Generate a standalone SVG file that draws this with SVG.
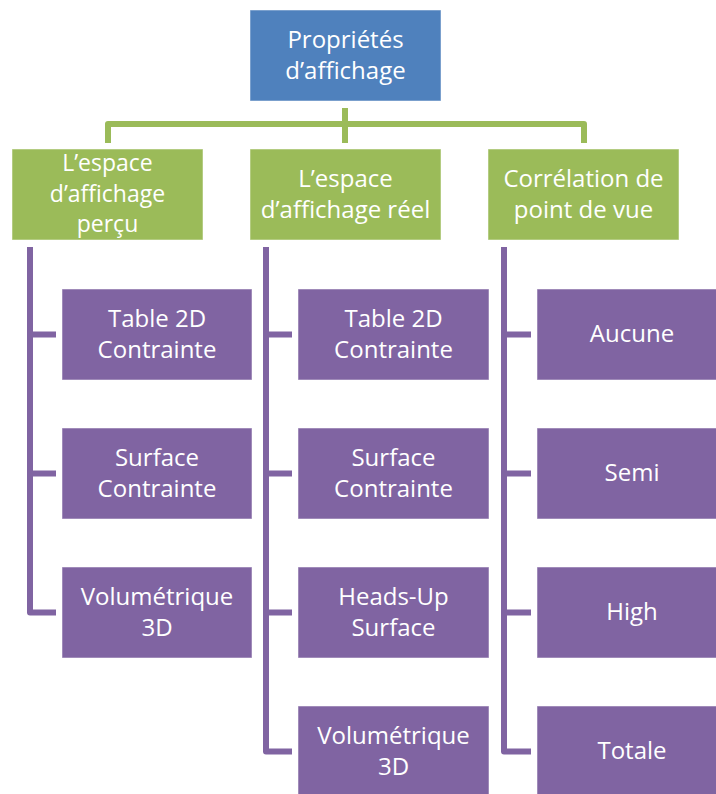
<svg xmlns="http://www.w3.org/2000/svg" width="716" height="794" viewBox="0 0 716 794">
<style>
.blue{fill:#4F81BD;stroke:#ffffff;stroke-opacity:0.5;stroke-width:1}
.green{fill:#9BBB59;stroke:#ffffff;stroke-opacity:0.5;stroke-width:1}
.purple{fill:#8064A2;stroke:#ffffff;stroke-opacity:0.5;stroke-width:1}
text{font-family:"Open Sans","Noto Sans","Liberation Sans",sans-serif;font-size:24px;fill:#ffffff;text-anchor:middle}
.sm{font-size:23px}
.gl{fill:none;stroke:#9BBB59;stroke-width:6;stroke-linejoin:round}
.pl{fill:none;stroke:#8064A2;stroke-width:6;stroke-linejoin:round}
</style>
<rect width="716" height="794" fill="#ffffff"/>
<g id="connectors">
<path class="gl" d="M345,108 V124 M108,143 V124 H584 V143 M345,124 V143"/>
<path class="pl" d="M30,247 V612.5 H56 M30,334.5 H56 M30,473.5 H56"/>
<path class="pl" d="M266,247 V751.5 H292 M266,334.5 H292 M266,473.5 H292 M266,612.5 H292"/>
<path class="pl" d="M504,247 V751.5 H531 M504,334.5 H531 M504,473.5 H531 M504,612.5 H531"/>
</g>
<g id="root"><rect class="blue" x="250" y="10" width="191" height="91"/><text x="345.5" y="48">Propriétés</text><text x="345.5" y="79">d’affichage</text></g>
<g id="percu"><rect class="green" x="12" y="149" width="191" height="91"/><text class="sm" x="107.5" y="171">L’espace</text><text class="sm" x="107.5" y="202">d’affichage</text><text class="sm" x="107.5" y="232">perçu</text></g>
<g id="reel"><rect class="green" x="250" y="149" width="191" height="91"/><text x="345.5" y="187">L’espace</text><text x="345.5" y="218">d’affichage réel</text></g>
<g id="correlation"><rect class="green" x="488" y="149" width="191" height="91"/><text x="583.5" y="187">Corrélation de</text><text x="583.5" y="218">point de vue</text></g>
<g id="p1"><rect class="purple" x="62" y="289" width="190" height="91"/><text x="157" y="327">Table 2D</text><text x="157" y="358">Contrainte</text></g>
<g id="p2"><rect class="purple" x="62" y="428" width="190" height="91"/><text x="157" y="466">Surface</text><text x="157" y="497">Contrainte</text></g>
<g id="p3"><rect class="purple" x="62" y="567" width="190" height="91"/><text x="157" y="605">Volumétrique</text><text x="157" y="636">3D</text></g>
<g id="r1"><rect class="purple" x="298" y="289" width="191" height="91"/><text x="393.5" y="327">Table 2D</text><text x="393.5" y="358">Contrainte</text></g>
<g id="r2"><rect class="purple" x="298" y="428" width="191" height="91"/><text x="393.5" y="466">Surface</text><text x="393.5" y="497">Contrainte</text></g>
<g id="r3"><rect class="purple" x="298" y="567" width="191" height="91"/><text x="393.5" y="605">Heads-Up</text><text x="393.5" y="636">Surface</text></g>
<g id="r4"><rect class="purple" x="298" y="706" width="191" height="91"/><text x="393.5" y="744">Volumétrique</text><text x="393.5" y="775">3D</text></g>
<g id="c1"><rect class="purple" x="537" y="289" width="191" height="91"/><text x="632" y="342">Aucune</text></g>
<g id="c2"><rect class="purple" x="537" y="428" width="191" height="91"/><text x="632" y="481">Semi</text></g>
<g id="c3"><rect class="purple" x="537" y="567" width="191" height="91"/><text x="632" y="620">High</text></g>
<g id="c4"><rect class="purple" x="537" y="706" width="191" height="91"/><text x="632" y="759">Totale</text></g>
</svg>
